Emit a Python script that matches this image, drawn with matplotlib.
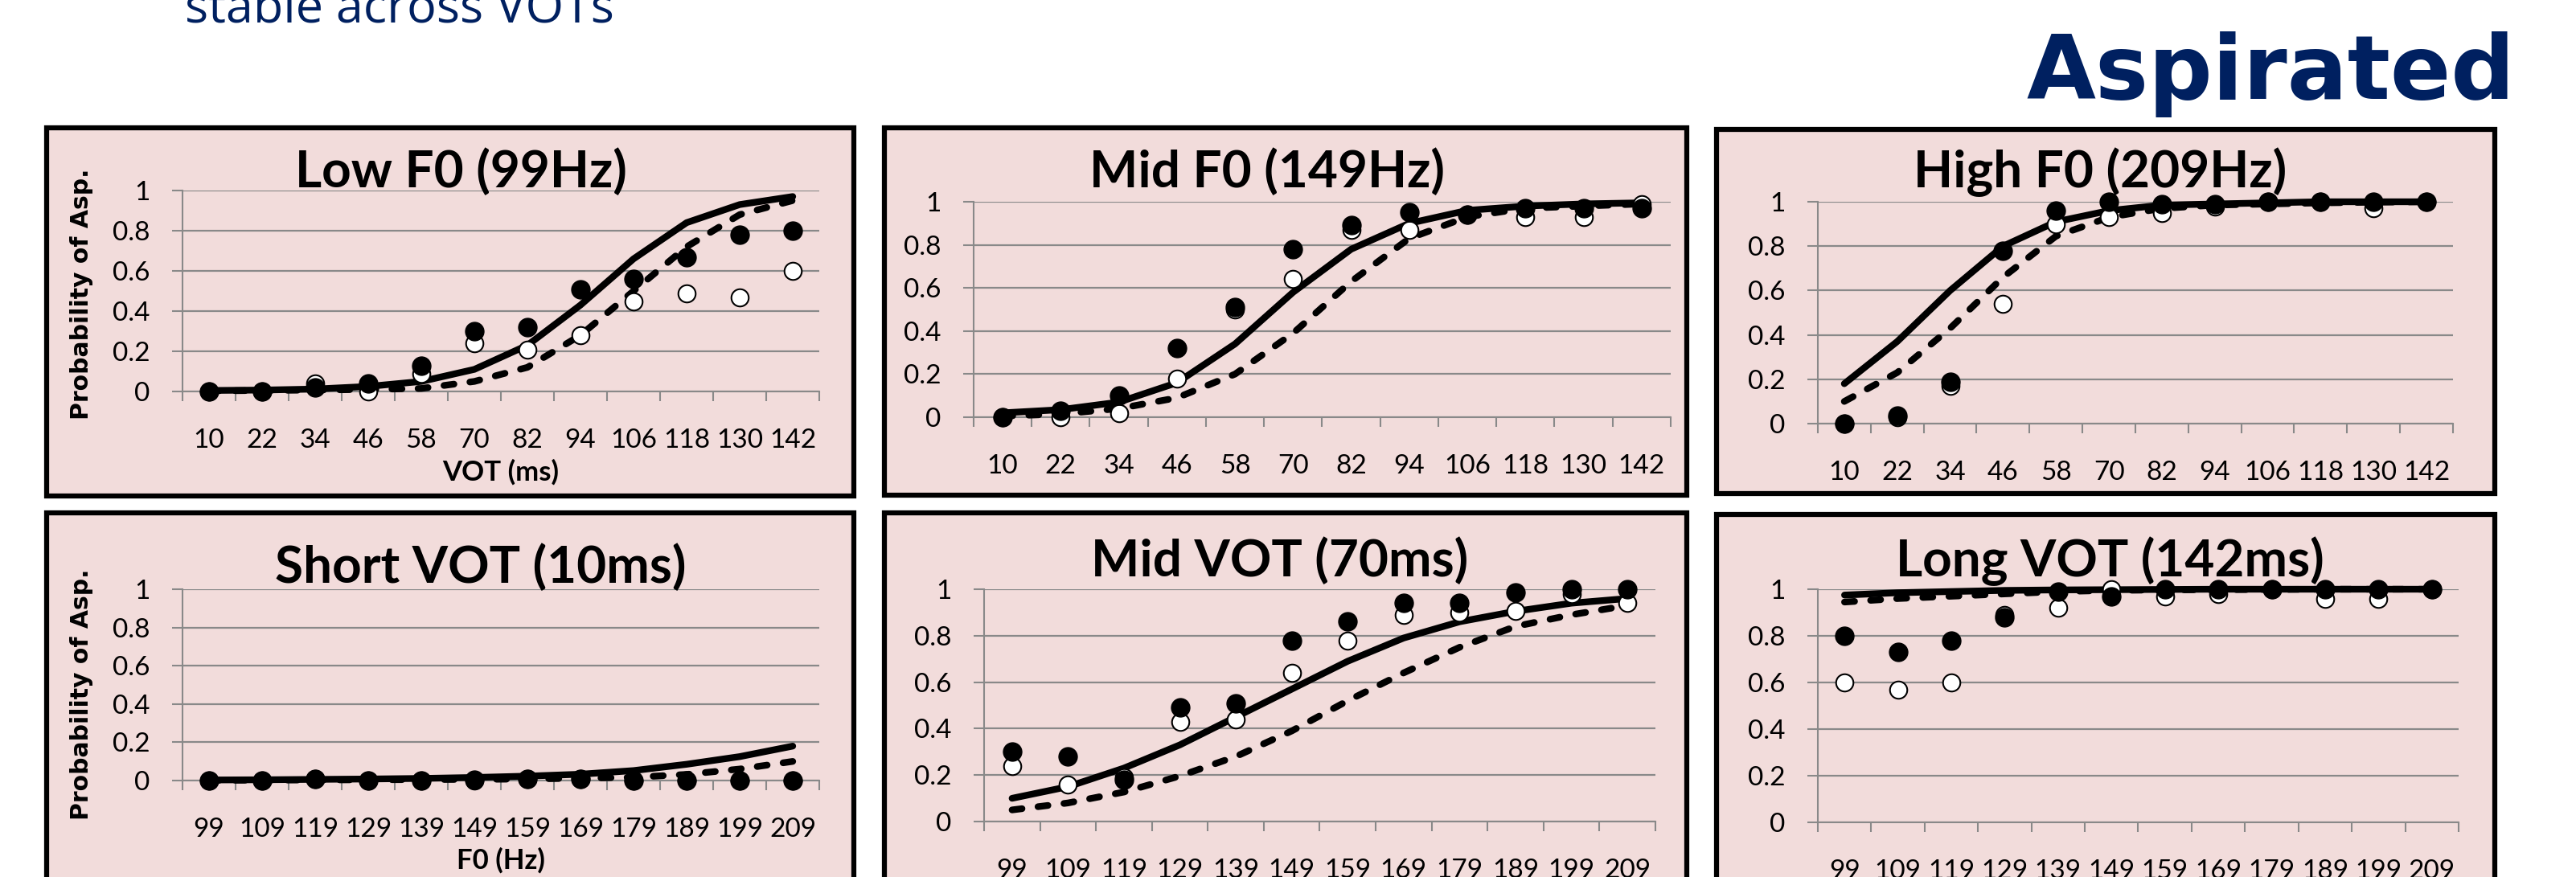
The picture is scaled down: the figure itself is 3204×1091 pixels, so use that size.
import numpy as np
import matplotlib
matplotlib.use("Agg")
from matplotlib import pyplot as plt
from matplotlib.patches import Rectangle

# === Data ===
vot_labels = ["10", "22", "34", "46", "58", "70", "82", "94", "106", "118", "130", "142"]
f0_labels = ["99", "109", "119", "129", "139", "149", "159", "169", "179", "189", "199", "209"]
y_ticks = [0, 0.2, 0.4, 0.6, 0.8, 1]
y_tick_labels = ["0", "0.2", "0.4", "0.6", "0.8", "1"]

# Low F0 (99Hz), x = VOT
low_f0_filled = [0.0, 0.0, 0.02, 0.04, 0.13, 0.30, 0.32, 0.51, 0.56, 0.67, 0.78, 0.80]
low_f0_open = [0.0, 0.0, 0.04, 0.0, 0.09, 0.24, 0.21, 0.28, 0.45, 0.49, 0.47, 0.60]
low_f0_solid = [0.005, 0.007, 0.012, 0.025, 0.05, 0.11, 0.23, 0.43, 0.66, 0.84, 0.93, 0.97]
low_f0_dashed = [0.003, 0.005, 0.007, 0.01, 0.015, 0.05, 0.12, 0.28, 0.50, 0.72, 0.88, 0.95]

# Mid F0 (149Hz)
mid_f0_filled = [0.0, 0.03, 0.10, 0.32, 0.51, 0.78, 0.89, 0.95, 0.94, 0.97, 0.97, 0.97]
mid_f0_open = [0.0, 0.0, 0.02, 0.18, 0.50, 0.64, 0.87, 0.87, 0.94, 0.93, 0.93, 0.99]
mid_f0_solid = [0.02, 0.035, 0.07, 0.16, 0.34, 0.58, 0.78, 0.90, 0.96, 0.98, 0.99, 0.995]
mid_f0_dashed = [0.005, 0.015, 0.04, 0.09, 0.20, 0.39, 0.63, 0.83, 0.93, 0.97, 0.98, 0.99]

# High F0 (209Hz)
high_f0_filled = [0.0, 0.035, 0.19, 0.78, 0.96, 1.0, 0.99, 0.99, 1.0, 1.0, 1.0, 1.0]
high_f0_open = [0.0, 0.03, 0.17, 0.54, 0.90, 0.93, 0.95, 0.98, 1.0, 1.0, 0.97, 1.0]
high_f0_solid = [0.18, 0.37, 0.60, 0.80, 0.91, 0.96, 0.985, 0.99, 0.995, 1.0, 1.0, 1.0]
high_f0_dashed = [0.10, 0.23, 0.43, 0.66, 0.845, 0.93, 0.97, 0.985, 0.99, 0.995, 0.998, 1.0]

# Short VOT (10ms), x = F0
short_vot_filled = [0.0, 0.0, 0.01, 0.0, 0.0, 0.005, 0.01, 0.01, 0.0, 0.0, 0.0, 0.0]
short_vot_open = [0.0, 0.0, 0.01, 0.0, 0.0, 0.0, 0.01, 0.01, 0.0, 0.0, 0.0, 0.0]
short_vot_solid = [0.003, 0.004, 0.006, 0.008, 0.011, 0.016, 0.023, 0.033, 0.052, 0.085, 0.125, 0.18]
short_vot_dashed = [0.001, 0.002, 0.003, 0.004, 0.005, 0.006, 0.008, 0.012, 0.017, 0.032, 0.06, 0.10]

# Mid VOT (70ms)
mid_vot_filled = [0.30, 0.28, 0.18, 0.49, 0.51, 0.78, 0.86, 0.94, 0.94, 0.985, 1.0, 1.0]
mid_vot_open = [0.24, 0.16, 0.19, 0.43, 0.44, 0.64, 0.78, 0.89, 0.90, 0.905, 0.98, 0.94]
mid_vot_solid = [0.10, 0.15, 0.23, 0.33, 0.45, 0.57, 0.69, 0.79, 0.86, 0.905, 0.94, 0.96]
mid_vot_dashed = [0.05, 0.08, 0.127, 0.196, 0.28, 0.39, 0.52, 0.64, 0.75, 0.84, 0.89, 0.93]

# Long VOT (142ms)
long_vot_filled = [0.80, 0.73, 0.78, 0.88, 0.99, 0.97, 1.0, 1.0, 1.0, 1.0, 1.0, 1.0]
long_vot_open = [0.60, 0.57, 0.60, 0.89, 0.92, 1.0, 0.97, 0.98, 1.0, 0.96, 0.96, 1.0]
long_vot_solid = [0.975, 0.985, 0.99, 0.995, 0.997, 0.998, 0.999, 1.0, 1.0, 1.0, 1.0, 1.0]
long_vot_dashed = [0.945, 0.96, 0.97, 0.98, 0.99, 0.995, 0.997, 0.998, 0.999, 1.0, 1.0, 1.0]

titles = ["Low F0 (99Hz)", "Mid F0 (149Hz)", "High F0 (209Hz)",
          "Short VOT (10ms)", "Mid VOT (70ms)", "Long VOT (142ms)"]

# === Style ===
W, H = 3205, 1091
PINK = "#F2DCDB"
GRID = "#898989"
NAVY = "#002060"
PX = 72 / 100  # points per pixel at dpi 100

fig = plt.figure(figsize=(W / 100, H / 100), dpi=100)
fig.patch.set_facecolor("white")


def px_rect(x0, y0, x1, y1):
    # pixel box (y from top) -> figure fraction [left, bottom, width, height]
    return [x0 / W, 1 - y1 / H, (x1 - x0) / W, (y1 - y0) / H]


def ftext(x, y, s, **kw):
    return fig.text(x / W, 1 - y / H, s, **kw)


# panel layout in pixels: box, plot area, title centre/baseline
panels = [
    dict(box=(58, 159, 1062, 617), area=(227, 237, 1019, 487), title=(573, 233)),
    dict(box=(1100, 159, 2098, 616), area=(1211, 251, 2078, 519), title=(1576, 233)),
    dict(box=(2135, 161, 3103, 614), area=(2261, 251, 3051, 527), title=(2612, 233)),
    dict(box=(58, 638, 1062, 1120), area=(227, 733, 1019, 971), title=(598, 725)),
    dict(box=(1100, 638, 2098, 1120), area=(1224, 733, 2059, 1022), title=(1592, 717)),
    dict(box=(2135, 640, 3103, 1120), area=(2261, 733, 3058, 1023), title=(2624, 717)),
]

series = [
    (low_f0_filled, low_f0_open, low_f0_solid, low_f0_dashed, vot_labels),
    (mid_f0_filled, mid_f0_open, mid_f0_solid, mid_f0_dashed, vot_labels),
    (high_f0_filled, high_f0_open, high_f0_solid, high_f0_dashed, vot_labels),
    (short_vot_filled, short_vot_open, short_vot_solid, short_vot_dashed, f0_labels),
    (mid_vot_filled, mid_vot_open, mid_vot_solid, mid_vot_dashed, f0_labels),
    (long_vot_filled, long_vot_open, long_vot_solid, long_vot_dashed, f0_labels),
]

for p, (filled, opened, solid, dashed, xlabels), title in zip(panels, series, titles):
    x0, y0, x1, y1 = p["box"]
    fig.add_artist(Rectangle((x0 / W, 1 - y1 / H), (x1 - x0) / W, (y1 - y0) / H,
                             transform=fig.transFigure, facecolor=PINK,
                             edgecolor="black", linewidth=4.5, zorder=0))

    ax = fig.add_axes(px_rect(*p["area"]))
    ax.patch.set_alpha(0)
    x = np.arange(len(xlabels))

    ax.plot(x, solid, color="black", lw=6, solid_capstyle="round", zorder=3, clip_on=False)
    ax.plot(x, dashed, color="black", lw=6, linestyle=(0, (1.5, 2.4)),
            dash_capstyle="round", zorder=3, clip_on=False)
    ax.plot(x, opened, "o", ms=15.5, mfc="white", mec="black", mew=1.5, zorder=4, clip_on=False)
    ax.plot(x, filled, "o", ms=16.5, mfc="black", mec="black", zorder=5, clip_on=False)

    ax.set_xlim(-0.5, len(xlabels) - 0.5)
    ax.set_ylim(0, 1)
    ax.set_xticks(x)
    ax.set_xticklabels(xlabels, fontfamily="Lato", fontsize=24)
    ax.set_xticks(np.arange(-0.5, len(xlabels), 1), minor=True)
    ax.set_yticks(y_ticks)
    ax.set_yticklabels(y_tick_labels, fontfamily="Lato", fontsize=24)

    ax.tick_params(axis="x", which="major", length=0, pad=33)
    ax.tick_params(axis="x", which="minor", length=12 * PX, width=1.5, color=GRID, direction="out")
    ax.tick_params(axis="y", length=13 * PX, width=1.5, color=GRID, direction="out", pad=20)

    ax.grid(axis="y", color=GRID, lw=1.6, zorder=1)
    ax.set_axisbelow(True)
    for side in ("top", "right"):
        ax.spines[side].set_visible(False)
    for side in ("left", "bottom"):
        ax.spines[side].set_color(GRID)
        ax.spines[side].set_linewidth(1.5)

    tx, ty = p["title"]
    ftext(tx, ty, title, ha="center", va="baseline", fontfamily="Lato",
          fontweight="bold", fontsize=46, zorder=6)

# axis titles
ftext(623, 587, "VOT (ms)", ha="center", va="center", fontfamily="Lato", fontweight="bold", fontsize=25)
ftext(623, 1070, "F0 (Hz)", ha="center", va="center", fontfamily="Lato", fontweight="bold", fontsize=25)
ftext(102, 366, "Probability of Asp.", ha="center", va="center", rotation=90,
      fontfamily="DejaVu Sans", fontweight="bold", fontsize=21.5)
ftext(102, 864, "Probability of Asp.", ha="center", va="center", rotation=90,
      fontfamily="DejaVu Sans", fontweight="bold", fontsize=21.5)

# slide texts
ftext(230, 28, "stable across VOTs", ha="left", va="baseline", color=NAVY,
      fontfamily="Open Sans", fontsize=44)
ftext(3128, 123, "Aspirated", ha="right", va="baseline", color=NAVY,
      fontfamily="DejaVu Sans", fontweight="bold", fontsize=80)

fig.savefig("out.png", dpi=100)
